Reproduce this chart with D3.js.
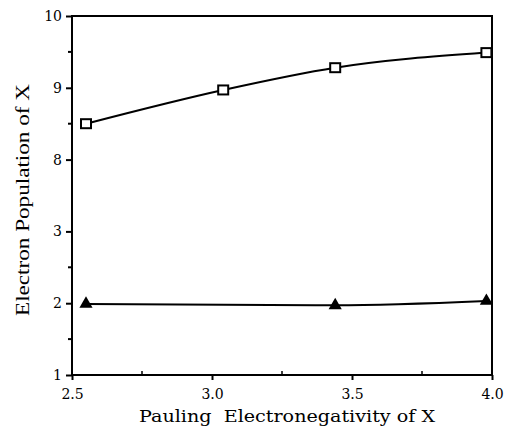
<!DOCTYPE html>
<html><head><meta charset="utf-8">
<script src="https://cdn.jsdelivr.net/npm/d3@7"></script>
<style>body{margin:0;background:#fff}</style>
</head><body>
<svg id="c" width="505" height="433"></svg>
<script>
const sqX = [2.55, 3.04, 3.44, 3.98];
const sqY = [8.50, 8.97, 9.28, 9.49];
const triX = [2.55, 3.44, 3.98];
const triY = [1.99, 1.97, 2.03];
const xTicks = [2.5, 3.0, 3.5, 4.0];
const yTickLabels = ["1", "2", "3", "8", "9", "10"];
const yTickValues = [1, 2, 3, 8, 9, 10];

const svg = d3.select("#c");
const L = 72, R = 492, T = 16, B = 375;
const tickFont = "DejaVu Serif";
const yTitleFont = "Liberation Serif";
const x = d3.scaleLinear().domain([2.5, 4.0]).range([L, R]);
// broken axis: 1-3 and 8-10 shown with equal spacing
const y = d3.scaleLinear().domain([1, 3, 8, 10]).range([B, B - 2*71.8, B - 3*71.8, T]);

// frame
svg.append("path").attr("d", `M${L},${B}V${T}H${R}V${B}H${L}`).attr("fill","none").attr("stroke","#000").attr("stroke-width",2);

// y axis
const yAx = svg.append("g").attr("transform", `translate(${L},0)`)
  .call(d3.axisLeft(y).tickValues(yTickValues).tickFormat((d,i)=>yTickLabels[i]).tickSize(6).tickPadding(4));
yAx.attr("font-family", null).attr("font-size", null);
yAx.select(".domain").remove();
yAx.selectAll("line").attr("stroke-width", 2);
yAx.selectAll("text").style("font-family", tickFont).style("font-size", "14px").attr("fill","#000");
const yMinor = [1.5, 2.5, 8.5, 9.5];
svg.selectAll(".ym").data(yMinor).join("line").attr("x1", L-4).attr("x2", L).attr("y1", d=>y(d)).attr("y2", d=>y(d)).attr("stroke","#000").attr("stroke-width",2);

// x axis
const xAx = svg.append("g").attr("transform", `translate(0,${B})`)
  .call(d3.axisBottom(x).tickValues(xTicks).tickFormat(d3.format(".1f")).tickSize(5).tickPadding(9));
xAx.attr("font-family", null).attr("font-size", null);
xAx.select(".domain").remove();
xAx.selectAll("line").attr("stroke-width", 2);
xAx.selectAll("text").style("font-family", tickFont).style("font-size", "14px").attr("fill","#000");
const xMinor = [2.75, 3.25, 3.75];
svg.selectAll(".xm").data(xMinor).join("line").attr("x1", d=>x(d)).attr("x2", d=>x(d)).attr("y1", B-4).attr("y2", B).attr("stroke","#000").attr("stroke-width",1.5);

// lines
const sq = sqX.map((v,i)=>[v, sqY[i]]);
const tri = triX.map((v,i)=>[v, triY[i]]);
const line = d3.line().x(d=>x(d[0])).y(d=>y(d[1])).curve(d3.curveMonotoneX);
svg.append("path").attr("d", line(sq)).attr("fill","none").attr("stroke","#000").attr("stroke-width",2);
svg.append("path").attr("d", line(tri)).attr("fill","none").attr("stroke","#000").attr("stroke-width",2);

// markers
svg.selectAll(".sq").data(sq).join("rect")
  .attr("x", d=>x(d[0])-5).attr("y", d=>y(d[1])-4.5).attr("width", 10).attr("height", 9)
  .attr("fill","#fff").attr("stroke","#000").attr("stroke-width",2);
svg.selectAll(".tri").data(tri).join("path")
  .attr("d", d3.symbol().type(d3.symbolTriangle).size(75))
  .attr("transform", d=>`translate(${x(d[0])},${y(d[1])})`).attr("fill","#000");

// titles
svg.append("text").attr("x", 287).attr("y", 422).attr("text-anchor","middle")
  .style("font-family", tickFont).style("font-size", "16px").attr("fill","#000")
  .attr("textLength", 296).attr("lengthAdjust", "spacingAndGlyphs")
  .style("white-space","pre").text("Pauling  Electronegativity of X");
svg.append("text").attr("transform", "translate(29,200) rotate(-90)").attr("text-anchor","middle")
  .style("font-family", yTitleFont).style("font-size", "19px").attr("fill","#000")
  .attr("textLength", 232).attr("lengthAdjust", "spacingAndGlyphs")
  .text("Electron Population of X");
</script>
</body></html>
